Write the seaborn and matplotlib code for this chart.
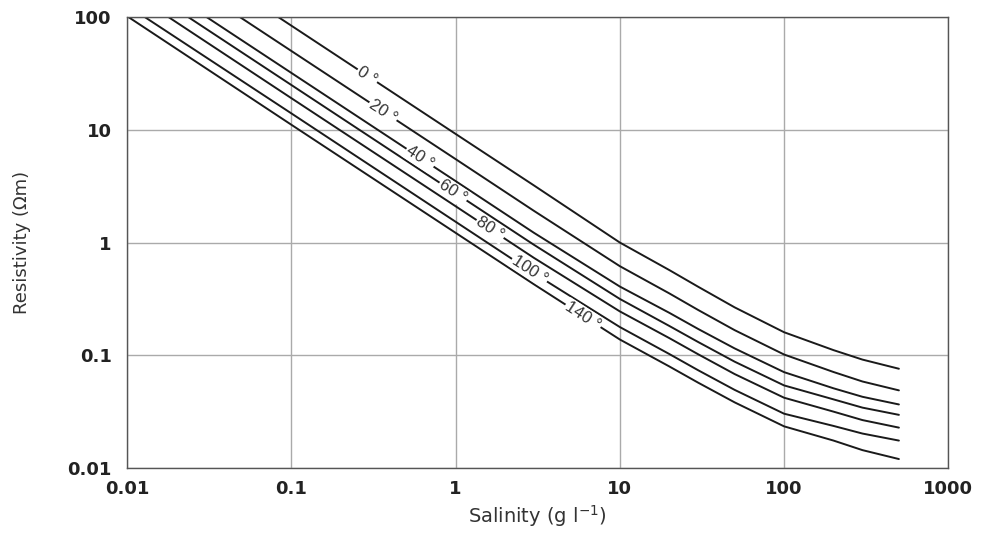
import numpy as np
import pandas as pd
import matplotlib
matplotlib.use("Agg")
import matplotlib.pyplot as plt
import seaborn as sns

salinity = [0.01, 0.1, 1, 3, 10, 20, 30, 50, 100, 200, 300, 500]

# resistivity (ohm m) per temperature curve
temps = ["0", "20", "40", "60", "80", "100", "140"]
r_0 = [765, 84.0, 9.20, 3.21, 1.00, 0.570, 0.405, 0.266, 0.160, 0.111, 0.0915, 0.0759]
r_20 = [457, 50.1, 5.50, 1.91, 0.617, 0.354, 0.252, 0.167, 0.1015, 0.0710, 0.0585, 0.0488]
r_40 = [292, 32.0, 3.51, 1.22, 0.407, 0.238, 0.171, 0.115, 0.0708, 0.0509, 0.0428, 0.0366]
r_60 = [228, 25.0, 2.74, 0.955, 0.316, 0.182, 0.131, 0.0877, 0.0540, 0.0406, 0.0343, 0.0296]
r_80 = [175, 19.1, 2.10, 0.731, 0.245, 0.142, 0.102, 0.0681, 0.0420, 0.0316, 0.0266, 0.0228]
r_100 = [127, 14.0, 1.53, 0.533, 0.178, 0.1026, 0.0736, 0.0493, 0.0303, 0.0236, 0.0202, 0.0175]
r_140 = [102, 11.1, 1.22, 0.426, 0.138, 0.0796, 0.0571, 0.0382, 0.0234, 0.0175, 0.0144, 0.0120]
curves = [r_0, r_20, r_40, r_60, r_80, r_100, r_140]

# inline label anchors (salinity, resistivity)
label_s = [0.29, 0.362, 0.608, 0.966, 1.63, 2.84, 5.98]
label_r = [30.0, 14.6, 5.65, 2.83, 1.33, 0.577, 0.224]

df = pd.concat(
    [pd.DataFrame({"salinity": salinity, "resistivity": r, "temp": t})
     for t, r in zip(temps, curves)],
    ignore_index=True,
)

sns.set_style("white")
plt.rcParams["font.family"] = ["DejaVu Sans"]

fig = plt.figure(figsize=(9.92, 5.33), dpi=100)
ax = fig.add_axes([0.128, 0.122, 0.828, 0.846])

sns.lineplot(data=df, x="salinity", y="resistivity", units="temp",
             estimator=None, sort=False, color="#1a1a1a", linewidth=1.4, ax=ax)

ax.set_xscale("log")
ax.set_yscale("log")
ax.set_xlim(0.01, 1000)
ax.set_ylim(0.01, 100)

xt = [0.01, 0.1, 1, 10, 100, 1000]
yt = [0.01, 0.1, 1, 10, 100]
ax.set_xticks(xt)
ax.set_xticklabels(["0.01", "0.1", "1", "10", "100", "1000"])
ax.set_yticks(yt)
ax.set_yticklabels(["0.01", "0.1", "1", "10", "100"])
ax.minorticks_off()
ax.tick_params(axis="both", length=3, width=0.8, color="#555555",
               labelsize=13, labelcolor="#222222")
ax.tick_params(axis="x", pad=6)
ax.tick_params(axis="y", pad=8)
for lab in ax.get_xticklabels() + ax.get_yticklabels():
    lab.set_fontweight("bold")

ax.grid(True, which="major", color="#aaaaaa", linewidth=1.0)
for sp in ax.spines.values():
    sp.set_color("#555555")
    sp.set_linewidth(1.0)

ax.set_xlabel("Salinity (g l$^{-1}$)", fontsize=14, color="#333333", labelpad=3)
ax.set_ylabel("Resistivity (\u03a9m)", fontsize=13, color="#333333", labelpad=26)

for t, xs, ys in zip(temps, label_s, label_r):
    ax.text(xs, ys, t + " \u00b0", rotation=-33, ha="center", va="center",
            fontsize=12, color="#333333", family="Liberation Sans",
            bbox=dict(facecolor="white", edgecolor="none", pad=1.0))

fig.savefig("out.png", dpi=100)
